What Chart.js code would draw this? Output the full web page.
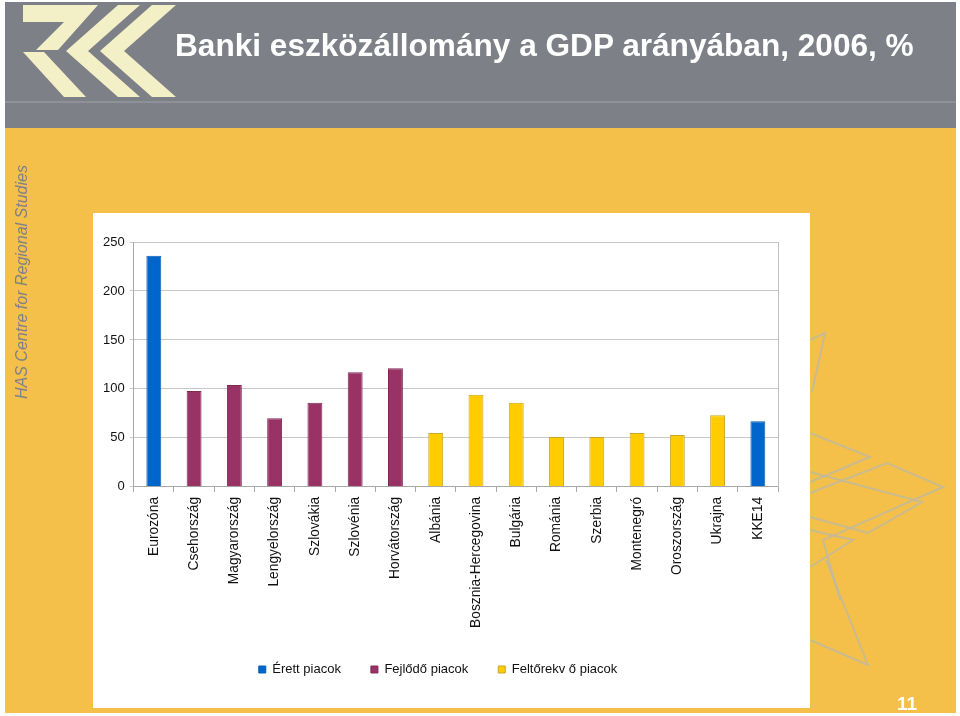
<!DOCTYPE html>
<html>
<head>
<meta charset="utf-8">
<script src="https://cdn.jsdelivr.net/npm/chart.js@4"></script>
<style>
  body { margin: 0; background: #fff; font-family: Arial, "Liberation Sans", sans-serif; }
  #slide { position: relative; width: 960px; height: 716px; overflow: hidden; }
  #bg { position: absolute; left: 0; top: 0; }
  #title { position: absolute; left: 175px; top: 27px; color: #fff; font-size: 31.6px; font-weight: bold; white-space: nowrap; }
  #side { position: absolute; left: 22px; top: 282px; transform: translate(-50%, -50%) rotate(-90deg); color: #7b7f86; font-size: 16px; font-style: italic; white-space: nowrap; }
  #box { position: absolute; left: 93px; top: 213px; width: 717px; height: 495px; background: #fff; }
  #pageNo { position: absolute; left: 897px; top: 693px; color: #fff; font-size: 19px; font-weight: bold; }
</style>
</head>
<body>
<div id="slide">
  <canvas id="bg" width="960" height="716"></canvas>
  <div id="title">Banki eszközállomány a GDP arányában, 2006, %</div>
  <div id="side">HAS Centre for Regional Studies</div>
  <div id="box"><canvas id="myChart"></canvas></div>
  <div id="pageNo">11</div>
</div>
<script>
// adatok
const orszagok = ["Eurozóna", "Csehország", "Magyarország", "Lengyelország", "Szlovákia", "Szlovénia",
    "Horvátország", "Albánia", "Bosznia-Hercegovina", "Bulgária", "Románia", "Szerbia",
    "Montenegró", "Oroszország", "Ukrajna", "KKE14"];
const erettPiacok = [236, null, null, null, null, null, null, null, null, null, null, null, null, null, null, 67];
const fejlodoPiacok = [null, 98, 104, 70, 86, 117, 121, null, null, null, null, null, null, null, null, null];
const feltorekvoPiacok = [null, null, null, null, null, null, null, 55, 94, 86, 51, 51, 55, 53, 73, null];
const sorozatNevek = ["Érett piacok", "Fejlődő piacok", "Feltőrekv ő piacok"];
const yTicks = [0, 50, 100, 150, 200, 250];

// háttér: fejléc, logó, díszítő vonalak
const bg = document.getElementById("bg").getContext("2d");
bg.fillStyle = "#F5C04A";
bg.fillRect(5, 128, 951, 585);
bg.fillStyle = "#7D8087";
bg.fillRect(5, 2, 951, 126);
bg.fillStyle = "#8F9196";
bg.fillRect(5, 101, 951, 2);

bg.fillStyle = "#F3EFC6";
function chevron(xr, xa, t) {
    bg.beginPath();
    bg.moveTo(xr - t, 5); bg.lineTo(xr, 5); bg.lineTo(xa + t, 51);
    bg.lineTo(xr, 97); bg.lineTo(xr - t, 97); bg.lineTo(xa, 51);
    bg.closePath(); bg.fill();
}
chevron(176, 100, 24);
chevron(140, 66, 22);
bg.beginPath();
bg.moveTo(23, 5); bg.lineTo(98, 5); bg.lineTo(58, 50); bg.lineTo(36, 50);
bg.lineTo(64, 22); bg.lineTo(23, 22); bg.closePath(); bg.fill();
bg.beginPath();
bg.moveTo(23, 52); bg.lineTo(44, 52); bg.lineTo(86, 97); bg.lineTo(64, 97); bg.closePath(); bg.fill();

bg.strokeStyle = "rgba(190, 185, 160, 0.8)";
bg.lineWidth = 2;
[
    [[810, 340], [825, 333], [812, 392]],
    [[810, 433], [870, 457], [810, 482]],
    [[810, 493], [887, 463], [943, 487], [823, 540], [840, 600]],
    [[810, 472], [922, 502], [868, 533], [810, 517]],
    [[810, 530], [853, 540], [810, 567]],
    [[826, 560], [868, 665], [810, 640]]
].forEach(pts => {
    bg.beginPath();
    pts.forEach((p, i) => i ? bg.lineTo(p[0], p[1]) : bg.moveTo(p[0], p[1]));
    bg.stroke();
});

// plot terület jobb oldali kerete
const keretPlugin = {
    id: "keret",
    afterDraw(chart) {
        const { ctx, chartArea } = chart;
        ctx.save();
        ctx.strokeStyle = "#c0c0c0";
        ctx.lineWidth = 1;
        ctx.beginPath();
        ctx.moveTo(Math.round(chartArea.right) + 0.5, chartArea.top);
        ctx.lineTo(Math.round(chartArea.right) + 0.5, chartArea.bottom);
        ctx.stroke();
        ctx.restore();
    }
};

Chart.defaults.font.family = "Arial, 'Liberation Sans', sans-serif";
Chart.defaults.color = "#111";

const ctx = document.getElementById("myChart").getContext("2d");
const oszlopok = new Chart(ctx, {
    type: "bar",
    data: {
        labels: orszagok,
        datasets: [
            { label: sorozatNevek[0], data: erettPiacok, backgroundColor: "#0066CC", borderColor: "#0A5CB0", borderWidth: 1 },
            { label: sorozatNevek[1], data: fejlodoPiacok, backgroundColor: "#993366", borderColor: "#7E2A55", borderWidth: 1 },
            { label: sorozatNevek[2], data: feltorekvoPiacok, backgroundColor: "#FFCC00", borderColor: "#C9A52A", borderWidth: 1 }
        ]
    },
    options: {
        responsive: true,
        maintainAspectRatio: false,
        animation: false,
        skipNull: true,
        categoryPercentage: 1,
        barPercentage: 0.37,
        layout: { padding: { top: 29, right: 32, left: 5, bottom: 22 } },
        plugins: {
            legend: {
                position: "bottom",
                labels: { boxWidth: 7, boxHeight: 7, padding: 30, font: { size: 13 } }
            },
            tooltip: { enabled: false }
        },
        scales: {
            x: {
                grid: { offset: true, drawOnChartArea: false, tickLength: 5, color: "#a8a8a8" },
                border: { color: "#a8a8a8" },
                ticks: { autoSkip: false, minRotation: 90, maxRotation: 90, padding: 5, font: { size: 13.8 } }
            },
            y: {
                min: 0,
                max: 250,
                afterBuildTicks: axis => { axis.ticks = yTicks.map(v => ({ value: v })); },
                grid: { color: "#c8c8c8", tickLength: 4 },
                border: { color: "#a8a8a8" },
                ticks: { padding: 5, font: { size: 13 } }
            }
        }
    },
    plugins: [keretPlugin]
});
</script>
</body>
</html>
